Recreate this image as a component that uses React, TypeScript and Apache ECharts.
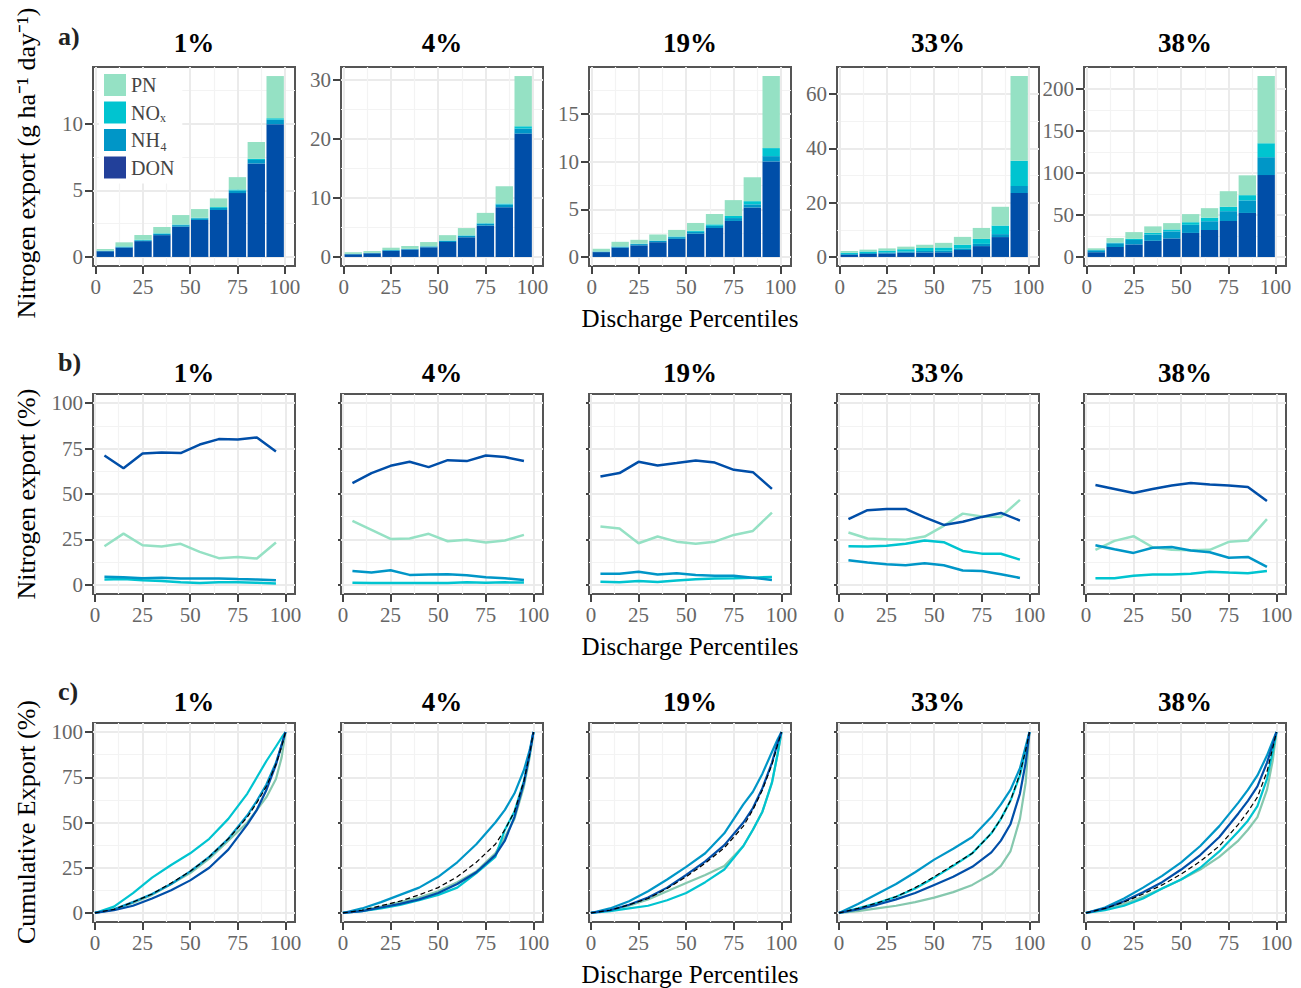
import React, { useEffect, useRef } from 'react';
import * as echarts from 'echarts';

// ---------------- DATA ----------------
const PANEL_TITLES = ['1%', '4%', '19%', '33%', '38%'];
const BAR_X = [5, 15, 25, 35, 45, 55, 65, 75, 85, 95];

// a) Nitrogen export (g ha-1 day-1) by discharge percentile bin, one array per panel
const A_DON = [
  [0.43, 0.71, 1.19, 1.64, 2.28, 2.78, 3.53, 4.8, 7.02, 9.98],
  [0.45, 0.62, 1.03, 1.26, 1.64, 2.54, 3.34, 5.33, 8.44, 20.94],
  [0.51, 0.98, 1.22, 1.55, 1.9, 2.44, 3.04, 3.78, 5.19, 10.03],
  [0.8, 1.11, 1.31, 1.59, 1.67, 1.72, 2.57, 4.0, 7.33, 23.6],
  [5.65, 11.86, 14.95, 19.22, 22.04, 28.61, 32.07, 42.83, 52.39, 97.5],
];
const A_NH4 = [
  [0.027, 0.046, 0.059, 0.09, 0.11, 0.126, 0.154, 0.19, 0.26, 0.34],
  [0.062, 0.068, 0.127, 0.102, 0.144, 0.218, 0.26, 0.314, 0.444, 0.84],
  [0.053, 0.099, 0.13, 0.135, 0.182, 0.196, 0.226, 0.304, 0.335, 0.56],
  [0.3, 0.33, 0.36, 0.41, 0.54, 0.56, 0.58, 0.82, 1.09, 2.57],
  [2.25, 4.41, 5.21, 7.43, 8.42, 9.64, 10.46, 11.67, 14.97, 21.3],
];
const A_NOX = [
  [0.018, 0.035, 0.041, 0.047, 0.047, 0.04, 0.066, 0.084, 0.104, 0.109],
  [0.01, 0.011, 0.016, 0.019, 0.028, 0.041, 0.069, 0.09, 0.168, 0.4],
  [0.015, 0.024, 0.04, 0.039, 0.068, 0.111, 0.158, 0.221, 0.335, 0.84],
  [0.47, 0.57, 0.68, 0.86, 1.1, 1.22, 1.38, 1.84, 3.16, 9.27],
  [0.38, 0.83, 1.51, 2.07, 2.3, 3.11, 4.24, 5.32, 6.22, 16.6],
];
const A_PN = [
  [0.125, 0.309, 0.36, 0.473, 0.713, 0.654, 0.65, 0.926, 1.266, 3.17],
  [0.278, 0.301, 0.397, 0.479, 0.718, 0.901, 1.231, 1.746, 2.948, 8.52],
  [0.282, 0.487, 0.41, 0.636, 0.69, 0.823, 1.086, 1.665, 2.51, 7.57],
  [0.63, 0.69, 0.8, 0.94, 1.19, 1.7, 2.87, 4.04, 6.92, 31.26],
  [2.02, 5.4, 7.93, 7.68, 7.54, 9.64, 11.33, 18.48, 23.62, 80.0],
];
const A_Y_MAJOR = [
  [0, 5, 10],
  [0, 10, 20, 30],
  [0, 5, 10, 15],
  [0, 20, 40, 60],
  [0, 50, 100, 150, 200],
];
const A_Y_MINOR = [
  [2.5, 7.5, 12.5],
  [5, 15, 25],
  [2.5, 7.5, 12.5, 17.5],
  [10, 30, 50],
  [25, 75, 125, 175],
];

// b) Nitrogen export share (%)
const B_DON = [
  [71.2, 64.2, 72.3, 72.8, 72.5, 77.2, 80.2, 80.0, 81.1, 73.4],
  [56.0, 61.5, 65.5, 67.7, 64.8, 68.6, 68.1, 71.2, 70.3, 68.2],
  [59.6, 61.5, 67.7, 65.7, 67.0, 68.4, 67.3, 63.3, 62.0, 52.8],
  [36.2, 41.1, 41.7, 41.8, 37.1, 33.0, 34.7, 37.4, 39.6, 35.4],
  [54.9, 52.7, 50.5, 52.8, 54.7, 56.1, 55.2, 54.7, 53.9, 46.1],
];
const B_PN = [
  [21.3, 28.2, 21.8, 21.1, 22.6, 18.2, 14.7, 15.4, 14.5, 23.3],
  [35.2, 30.3, 25.3, 25.5, 28.1, 24.0, 24.8, 23.3, 24.4, 27.5],
  [32.1, 31.0, 22.9, 26.6, 23.8, 22.6, 23.8, 27.5, 29.7, 39.8],
  [28.8, 25.5, 25.1, 24.9, 26.6, 32.5, 39.2, 37.6, 37.4, 46.8],
  [19.3, 24.2, 26.8, 20.7, 19.3, 19.1, 19.3, 23.7, 24.4, 36.2],
];
const B_NH4 = [
  [4.5, 4.2, 3.6, 4.0, 3.5, 3.5, 3.5, 3.2, 3.0, 2.5],
  [7.7, 6.8, 8.1, 5.5, 5.7, 5.9, 5.3, 4.2, 3.7, 2.75],
  [6.2, 6.2, 7.2, 5.7, 6.4, 5.5, 5.0, 5.1, 4.0, 2.75],
  [13.6, 12.3, 11.4, 10.8, 11.9, 10.8, 7.9, 7.7, 5.9, 3.85],
  [21.8, 19.6, 17.6, 20.4, 20.9, 18.9, 18.0, 14.9, 15.4, 9.9],
];
const B_NOX = [
  [3.0, 3.2, 2.5, 2.1, 1.5, 1.1, 1.5, 1.4, 1.2, 0.8],
  [1.2, 1.1, 1.0, 1.0, 1.1, 1.1, 1.4, 1.2, 1.4, 1.3],
  [1.8, 1.5, 2.2, 1.65, 2.4, 3.1, 3.5, 3.7, 4.0, 4.4],
  [21.3, 21.1, 21.6, 22.6, 24.4, 23.5, 18.7, 17.2, 17.1, 13.9],
  [3.7, 3.7, 5.1, 5.7, 5.7, 6.1, 7.3, 6.8, 6.4, 7.7],
];

// c) Cumulative export (%)
const C_X = [0, 10, 20, 30, 40, 50, 60, 70, 80, 85, 90, 95, 98, 100];
const C_PN = [
  [0, 2, 5.5, 10, 16, 22, 30, 40, 50, 57, 64, 74, 86, 100],
  [0, 1.5, 3.5, 6, 8.5, 12, 17, 23, 33, 42, 52, 70, 86, 100],
  [0, 1.5, 4, 7.5, 12, 16.5, 21, 26, 37, 46, 56, 72, 88, 100],
  [0, 1, 2.5, 4, 6, 8.5, 11.5, 15.5, 21.5, 26, 34, 52, 72, 100],
  [0, 2, 5, 9, 13.5, 18.5, 24, 31, 40, 46, 53, 68, 84, 100],
];
const C_NOX = [
  [0, 3.5, 11, 19.5, 26.5, 33, 41, 52, 66, 75, 84, 92, 97, 100],
  [0, 1, 2.5, 4.5, 7, 10, 14, 22, 31, 46, 56, 73, 88, 100],
  [0, 1, 2.5, 4, 7, 11, 17, 24, 37, 46, 56, 72, 88, 100],
  [0, 2.5, 5.5, 9, 13.5, 19.5, 26, 33, 44, 52, 62, 76, 90, 100],
  [0, 1.5, 4, 8, 13.5, 18.5, 25, 34, 45, 51, 59, 74, 89, 100],
];
const C_NH4 = [
  [0, 2, 6, 10.5, 16, 23, 31, 41, 54, 62, 71, 83, 93, 100],
  [0, 2.5, 6, 10, 14, 20, 28, 38, 50, 57, 66, 79, 90, 100],
  [0, 2.5, 6.5, 12, 18.5, 25.5, 33, 44, 60, 67, 77, 89, 96, 100],
  [0, 5, 10.5, 16, 22.5, 29.5, 35.5, 42, 53, 60, 68, 80, 92, 100],
  [0, 3, 8, 14, 20.5, 28, 37, 48, 61, 68, 76, 87, 95, 100],
];
const C_DON = [
  [0, 1.5, 4, 8, 12.5, 18, 25, 35, 49, 57, 68, 82, 93, 100],
  [0, 1, 3, 5, 7.5, 11, 16, 22.5, 32, 40, 53, 72, 88, 100],
  [0, 1.5, 4.5, 8.5, 14, 21, 28.5, 37.5, 50, 58, 69, 83, 94, 100],
  [0, 2, 4.5, 7.5, 11, 15.5, 20, 25.5, 33.5, 40, 49, 66, 83, 100],
  [0, 2.5, 6.5, 11.5, 17, 24, 32, 42, 55, 62, 70, 83, 93, 100],
];
const C_TOTAL = [
  [0, 2, 6, 10.5, 16.5, 23, 31, 41, 53, 61, 70, 82, 92, 100],
  [0, 1.5, 4, 6.5, 10, 14, 20, 28, 38, 46, 56, 73, 88, 100],
  [0, 1.5, 4.5, 8, 13.5, 20, 27.5, 36, 48, 57, 68, 82, 93, 100],
  [0, 2.5, 5.5, 9, 14, 20, 26.5, 33, 44, 52, 62, 77, 90, 100],
  [0, 2.5, 6, 10.5, 15.5, 21.5, 28.5, 37, 49, 56, 64, 78, 91, 100],
];

const X_MAJOR = [0, 25, 50, 75, 100];
const X_MINOR = [12.5, 37.5, 62.5, 87.5];
const PCT_MAJOR = [0, 25, 50, 75, 100];
const PCT_MINOR = [12.5, 37.5, 62.5, 87.5];

// ---------------- STYLE / LAYOUT ----------------
const FONT = "'Liberation Serif', 'Times New Roman', serif";
const COL = { PN: '#95e1c4', NOX: '#00c4d0', NH4: '#0096c7', DON: '#004ea8' };
const PN_CUM = '#86c8ae';
const NAMES = { PN: 'PN', NOX: 'NOₓ', NH4: 'NH₄', DON: 'DON' };

const COL_LEFT = [93, 341, 589, 837, 1084];
const PANEL_W = 202;
const ROW_TOP = [67, 394, 723];
const ROW_H = [199, 200, 199];
const TITLE_Y = [43, 373, 702];
const ROWLAB_Y = [36, 362, 691];
const XTITLE_Y = [318, 646, 974];
const YTITLE_Y = [163, 494, 822];
const X_RANGE_A = [-1.5, 105.5];
const X_RANGE_BC = [-1, 105];
const BIN_SPAN = [0, 100]; // bars cover 0..100 percentile, 10 bins

function makeAxes(gi: number, min: number, max: number, major: number[], minor: number[], showLabel: boolean, tickLen: number) {
  const main = {
    type: 'value', gridIndex: gi, min, max,
    axisLine: { show: false, onZero: false },
    axisTick: { show: true, inside: false, length: tickLen, lineStyle: { color: '#444', width: 2 }, customValues: major },
    axisLabel: { show: showLabel, customValues: major, margin: 10, fontFamily: FONT, fontSize: 21, color: '#666' },
    splitLine: { show: true, lineStyle: { color: '#ebebeb', width: 2 } },
    minorTick: { show: false },
    minorSplitLine: { show: false },
  };
  const mn = {
    type: 'value', gridIndex: gi, min, max,
    axisLine: { show: false, onZero: false },
    axisTick: { show: false, customValues: minor },
    axisLabel: { show: false, customValues: minor },
    splitLine: { show: true, lineStyle: { color: '#f3f3f3', width: 1.2 } },
  };
  return [main, mn];
}

function txt(x: number, y: number, text: string, size: number, bold: boolean, fill: string, align = 'center', rotation = 0) {
  return {
    type: 'text', x, y, rotation, silent: true,
    style: {
      text, fill, fontSize: size, fontFamily: FONT, fontWeight: bold ? 'bold' : 'normal',
      align, textAlign: align, verticalAlign: 'middle', textVerticalAlign: 'middle',
    },
  };
}

function buildOption() {
  const grid: any[] = [];
  const xAxis: any[] = [];
  const yAxis: any[] = [];
  const series: any[] = [];
  const graphic: any[] = [];
  const barAxes: { x: any; y: any; grid: any }[] = [];

  for (let r = 0; r < 3; r++) {
    for (let c = 0; c < 5; c++) {
      const gi = r * 5 + c;
      grid.push({
        left: COL_LEFT[c], top: ROW_TOP[r], width: PANEL_W, height: ROW_H[r],
        show: true, borderColor: '#555', borderWidth: 2, backgroundColor: 'rgba(0,0,0,0)',
        containLabel: false, outerBoundsMode: 'none',
      });
      const xr = r === 0 ? X_RANGE_A : X_RANGE_BC;
      xAxis.push(...makeAxes(gi, xr[0], xr[1], X_MAJOR, X_MINOR, true, 8));
      if (r === 0) {
        const totals = A_DON[c].map((v, i) => v + A_NH4[c][i] + A_NOX[c][i] + A_PN[c][i]);
        const mx = Math.max(...totals);
        const ymin = -0.05 * mx;
        const ymax = 1.05 * mx;
        yAxis.push(...makeAxes(gi, ymin, ymax, A_Y_MAJOR[c], A_Y_MINOR[c], true, 8));
        // invisible category grid aligned with 0..100 on the value x axis, for stacked bars
        const ppu = PANEL_W / (xr[1] - xr[0]);
        barAxes.push({
          grid: {
            left: COL_LEFT[c] + (BIN_SPAN[0] - xr[0]) * ppu,
            top: ROW_TOP[r], height: ROW_H[r],
            width: (BIN_SPAN[1] - BIN_SPAN[0]) * ppu,
            show: false, containLabel: false, outerBoundsMode: 'none',
          },
          x: { type: 'category', data: BAR_X.map(String), boundaryGap: true, show: false },
          y: { type: 'value', min: ymin, max: ymax, show: false, splitLine: { show: false } },
        });
      } else {
        yAxis.push(...makeAxes(gi, -5, 105, PCT_MAJOR, PCT_MINOR, c === 0, c === 0 ? 8 : 3));
      }
      const xi = 2 * gi;
      const base = { xAxisIndex: xi, yAxisIndex: xi, silent: true, emphasis: { disabled: true } };
      if (r === 1) {
        const parts: [string, number[][], string][] = [
          ['PN', B_PN, COL.PN], ['NOX', B_NOX, COL.NOX], ['NH4', B_NH4, COL.NH4], ['DON', B_DON, COL.DON],
        ];
        parts.forEach(([k, arr, color]) => {
          series.push({
            ...base, type: 'line', name: (NAMES as any)[k], symbol: 'none', showSymbol: false,
            data: BAR_X.map((x, i) => [x, arr[c][i]]),
            lineStyle: { color, width: 2.5 }, itemStyle: { color }, z: 3,
          });
        });
      } else if (r === 2) {
        const parts: [string, number[][], string][] = [
          ['PN', C_PN, PN_CUM], ['NOX', C_NOX, COL.NOX], ['NH4', C_NH4, COL.NH4], ['DON', C_DON, COL.DON],
        ];
        parts.forEach(([k, arr, color]) => {
          series.push({
            ...base, type: 'line', name: (NAMES as any)[k], symbol: 'none', showSymbol: false,
            data: C_X.map((x, i) => [x, arr[c][i]]),
            lineStyle: { color, width: 2.2 }, itemStyle: { color }, z: 3,
          });
        });
        series.push({
          ...base, type: 'line', name: 'Total N', symbol: 'none', showSymbol: false,
          data: C_X.map((x, i) => [x, C_TOTAL[c][i]]),
          lineStyle: { color: '#000', width: 1.2, type: [5, 3] }, itemStyle: { color: '#000' }, z: 4,
        });
      }
      graphic.push(txt(COL_LEFT[c] + PANEL_W / 2, TITLE_Y[r], PANEL_TITLES[c], 27, true, '#000'));
    }
    graphic.push(txt(58, ROWLAB_Y[r], ['a)', 'b)', 'c)'][r], 26, true, '#222', 'left'));
    graphic.push(txt(COL_LEFT[2] + PANEL_W / 2, XTITLE_Y[r], 'Discharge Percentiles', 25, false, '#000'));
  }

  // stacked bars (row a) on the extra category grids
  barAxes.forEach((b, c) => {
    const gi = grid.length;
    grid.push(b.grid);
    const ai = xAxis.length;
    xAxis.push({ ...b.x, gridIndex: gi });
    yAxis.push({ ...b.y, gridIndex: gi });
    const parts: [string, number[][], string][] = [
      ['DON', A_DON, COL.DON], ['NH4', A_NH4, COL.NH4], ['NOX', A_NOX, COL.NOX], ['PN', A_PN, COL.PN],
    ];
    parts.forEach(([k, arr, color]) => {
      series.push({
        type: 'bar', name: (NAMES as any)[k], xAxisIndex: ai, yAxisIndex: ai, stack: 'a' + c,
        barWidth: '92%', data: arr[c], itemStyle: { color }, z: 3, silent: true, emphasis: { disabled: true },
      });
    });
  });

  graphic.push(txt(26, YTITLE_Y[0], 'Nitrogen export (g ha⁻¹ day⁻¹)', 26, false, '#000', 'center', Math.PI / 2));
  graphic.push(txt(26, YTITLE_Y[1], 'Nitrogen export (%)', 26, false, '#000', 'center', Math.PI / 2));
  graphic.push(txt(26, YTITLE_Y[2], 'Cumulative Export (%)', 26, false, '#000', 'center', Math.PI / 2));

  return {
    animation: false,
    backgroundColor: '#fff',
    grid, xAxis, yAxis, series, graphic,
    legend: {
      show: true, orient: 'vertical', left: 99, top: 69, z: 10,
      itemWidth: 22, itemHeight: 22, itemGap: 5.5, icon: 'rect', selectedMode: false,
      backgroundColor: '#fff', padding: [5, 8, 5, 5],
      textStyle: { fontFamily: FONT, fontSize: 20, color: '#444' },
      data: [
        { name: NAMES.PN, itemStyle: { color: COL.PN } },
        { name: NAMES.NOX, itemStyle: { color: COL.NOX } },
        { name: NAMES.NH4, itemStyle: { color: COL.NH4 } },
        { name: NAMES.DON, itemStyle: { color: '#22409a' } },
      ],
    },
  };
}

export default function App() {
  const ref = useRef<HTMLDivElement>(null);
  useEffect(() => {
    if (!ref.current) return;
    const chart = echarts.init(ref.current, null, { renderer: 'svg', width: 1301, height: 988 });
    chart.setOption(buildOption() as any);
    return () => chart.dispose();
  }, []);
  return (
    <div
      ref={ref}
      style={{ position: 'fixed', left: 0, top: 0, width: 1301, height: 988, background: '#fff' }}
    />
  );
}
